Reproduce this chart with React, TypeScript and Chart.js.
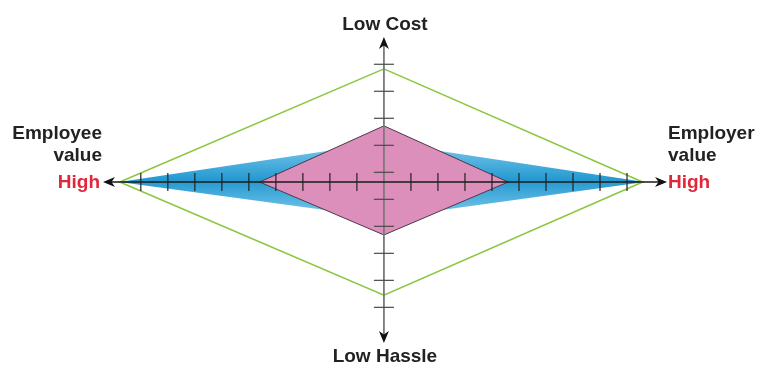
import React, { useEffect, useRef } from "react";
import { Chart, registerables } from "chart.js";

Chart.register(...registerables);

// Axis names
const topLabel = "Low Cost";
const bottomLabel = "Low Hassle";
const leftLabel = ["Employee", "value"];
const rightLabel = ["Employer", "value"];
const endLabel = "High";

// Shapes: vertices [top, right, bottom, left] in axis units
const greenShape = [
  { x: 0, y: 4.19 },
  { x: 9.58, y: 0 },
  { x: 0, y: -4.19 },
  { x: -9.78, y: 0 },
  { x: 0, y: 4.19 },
];
const blueShape = [
  { x: 0, y: 1.46 },
  { x: 9.66, y: 0 },
  { x: 0, y: -1.33 },
  { x: -9.8, y: 0 },
  { x: 0, y: 1.46 },
];
const pinkShape = [
  { x: 0, y: 2.08 },
  { x: 4.6, y: 0 },
  { x: 0, y: -1.96 },
  { x: -4.6, y: 0 },
  { x: 0, y: 2.08 },
];

// Tick marks along the axes
const xTicks = [-9, -8, -7, -6, -5, -4, -3, -2, -1, 1, 2, 3, 4, 5, 6, 7, 8, 9];
const yTicks = [4.36, 3.36, 2.36, 1.36, 0.36, -0.64, -1.64, -2.64, -3.64, -4.64];

// Axis extents (arrow tips)
const xRange = [-10.4, 10.48];
const yRange = [-5.96, 5.37];

const FONT = "bold 19px 'Liberation Sans', Arial, sans-serif";

function drawArrow(ctx: CanvasRenderingContext2D, tx: number, ty: number, dx: number, dy: number, color: string) {
  const len = 12;
  const hw = 5;
  const notch = 8.5;
  const px = -dy;
  const py = dx;
  ctx.save();
  ctx.fillStyle = color;
  ctx.beginPath();
  ctx.moveTo(tx, ty);
  ctx.lineTo(tx - dx * len + px * hw, ty - dy * len + py * hw);
  ctx.lineTo(tx - dx * notch, ty - dy * notch);
  ctx.lineTo(tx - dx * len - px * hw, ty - dy * len - py * hw);
  ctx.closePath();
  ctx.fill();
  ctx.restore();
}

const axesPlugin = {
  id: "crossAxes",
  afterDatasetsDraw(chart: any) {
    const ctx: CanvasRenderingContext2D = chart.ctx;
    const xs = chart.scales.x;
    const ys = chart.scales.y;
    const cx = xs.getPixelForValue(0);
    const cy = ys.getPixelForValue(0);
    const left = xs.getPixelForValue(xRange[0]);
    const right = xs.getPixelForValue(xRange[1]);
    const top = ys.getPixelForValue(yRange[1]);
    const bottom = ys.getPixelForValue(yRange[0]);

    ctx.save();
    // vertical axis
    ctx.strokeStyle = "#7a7a7a";
    ctx.lineWidth = 1.8;
    ctx.beginPath();
    ctx.moveTo(cx, top + 8);
    ctx.lineTo(cx, bottom - 8);
    ctx.stroke();
    ctx.strokeStyle = "#4a4a4a";
    ctx.lineWidth = 1.2;
    yTicks.forEach((v) => {
      const py = ys.getPixelForValue(v);
      ctx.beginPath();
      ctx.moveTo(cx - 10, py);
      ctx.lineTo(cx + 10, py);
      ctx.stroke();
    });

    // horizontal axis
    ctx.strokeStyle = "#1a1a1a";
    ctx.lineWidth = 1.5;
    ctx.beginPath();
    ctx.moveTo(left + 8, cy);
    ctx.lineTo(right - 8, cy);
    ctx.stroke();
    ctx.lineWidth = 1.2;
    ctx.strokeStyle = "#222";
    xTicks.forEach((v) => {
      const px = xs.getPixelForValue(v);
      ctx.beginPath();
      ctx.moveTo(px, cy - 9);
      ctx.lineTo(px, cy + 9);
      ctx.stroke();
    });

    drawArrow(ctx, left, cy, -1, 0, "#111");
    drawArrow(ctx, right, cy, 1, 0, "#111");
    drawArrow(ctx, cx, top, 0, -1, "#111");
    drawArrow(ctx, cx, bottom, 0, 1, "#111");

    // labels
    ctx.font = FONT;
    ctx.textBaseline = "alphabetic";
    ctx.fillStyle = "#222";
    ctx.textAlign = "center";
    ctx.fillText(topLabel, cx + 1, top - 7);
    ctx.fillText(bottomLabel, cx + 1, bottom + 19);

    ctx.textAlign = "right";
    ctx.fillText(leftLabel[0], left - 1, cy - 43);
    ctx.fillText(leftLabel[1], left - 1, cy - 21);
    ctx.fillStyle = "#e0283c";
    ctx.fillText(endLabel, left - 3, cy + 6);

    ctx.textAlign = "left";
    ctx.fillStyle = "#222";
    ctx.fillText(rightLabel[0], right + 1, cy - 43);
    ctx.fillText(rightLabel[1], right + 1, cy - 21);
    ctx.fillStyle = "#e0283c";
    ctx.fillText(endLabel, right + 1, cy + 6);
    ctx.restore();
  },
};

export default function App() {
  const ref = useRef<HTMLCanvasElement | null>(null);

  useEffect(() => {
    if (!ref.current) return;
    const blueFill = (c: any) => {
      const chart = c.chart;
      if (!chart.chartArea) return "#3aa5d8";
      const ys = chart.scales.y;
      const y0 = ys.getPixelForValue(blueShape[0].y);
      const y1 = ys.getPixelForValue(blueShape[2].y);
      const g = chart.ctx.createLinearGradient(0, y0, 0, y1);
      g.addColorStop(0, "#80caec");
      g.addColorStop(0.5, "#2399d0");
      g.addColorStop(1, "#80caec");
      return g;
    };
    const chart = new Chart(ref.current, {
      type: "line",
      data: {
        datasets: [
          {
            label: "green",
            data: greenShape,
            borderColor: "#8cc63f",
            borderWidth: 1.6,
            fill: false,
            pointRadius: 0,
            tension: 0,
          },
          {
            label: "pink",
            data: pinkShape,
            borderColor: "#4d3848",
            borderWidth: 1,
            backgroundColor: "#dc8fba",
            fill: "shape",
            pointRadius: 0,
            tension: 0,
          },
          {
            label: "blue",
            data: blueShape,
            borderWidth: 0,
            borderColor: "rgba(0,0,0,0)",
            backgroundColor: blueFill,
            fill: "shape",
            pointRadius: 0,
            tension: 0,
          },
        ],
      } as any,
      options: {
        animation: false,
        responsive: false,
        maintainAspectRatio: false,
        devicePixelRatio: 1,
        layout: { padding: { left: 103, right: 97, top: 37, bottom: 22 } },
        scales: {
          x: { type: "linear", min: xRange[0], max: xRange[1], display: false },
          y: { type: "linear", min: yRange[0], max: yRange[1], display: false },
        },
        plugins: {
          legend: { display: false },
          tooltip: { enabled: false },
        },
      } as any,
      plugins: [axesPlugin],
    });
    return () => chart.destroy();
  }, []);

  return (
    <div style={{ position: "absolute", left: 0, top: 0, width: 764, height: 365, background: "#fff" }}>
      <canvas ref={ref} width={764} height={365} style={{ width: 764, height: 365, display: "block" }} />
    </div>
  );
}
